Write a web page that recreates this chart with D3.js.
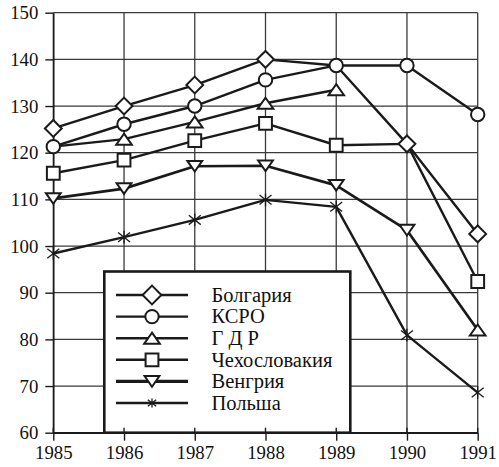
<!DOCTYPE html>
<html><head><meta charset="utf-8">
<script src="https://cdn.jsdelivr.net/npm/d3@7"></script>
<style>body{margin:0;background:#fff}svg{display:block}</style>
</head><body>
<svg id="c" width="499" height="467"></svg>
<script>
const years = [1985, 1986, 1987, 1988, 1989, 1990, 1991];
const yTicks = [60, 70, 80, 90, 100, 110, 120, 130, 140, 150];
const seriesNames = ["Болгария", "КСРО", "Г Д Р", "Чехословакия", "Венгрия", "Польша"];
const bolgariya = [125.2, 130, 134.5, 140, 138.7, 121.9, 102.6];
const ksro = [121.3, 126.1, 130, 135.6, 138.7, 138.7, 128.2];
const gdr = [121.3, 122.9, 126.6, 130.6, 133.5, null, null];
const chehoslovakiya = [115.6, 118.4, 122.6, 126.3, 121.6, 121.9, 92.4];
const vengriya = [110.2, 112.3, 117.1, 117.2, 113, 103.4, 82];
const polsha = [98.4, 101.9, 105.6, 109.9, 108.4, 80.9, 68.6];
// markers not visible in the reference (hidden under other points)
const hiddenMarkers = {"Болгария": [1989], "Г Д Р": [1985], "Чехословакия": [1990]};
const shapes = ["diamond", "circle", "up", "square", "down", "star"];
const vengriyaLastShape = "up";

const values = [bolgariya, ksro, gdr, chehoslovakiya, vengriya, polsha];
const svg = d3.select("#c");
const x = d3.scaleLinear().domain([1985, 1991]).range([53.3, 477.7]);
const y = d3.scaleLinear().domain([60, 150]).range([432.7, 12.7]);
const FONT = "'Liberation Serif','Times New Roman',serif";
const ink = "#1a1a1a";

// grid
const g = svg.append("g");
g.selectAll(".hg").data(yTicks).join("line")
  .attr("x1", x(1985)).attr("x2", x(1991)).attr("y1", d => y(d)).attr("y2", d => y(d))
  .attr("stroke", "#3a3a3a").attr("stroke-width", 1.3);
g.selectAll(".vg").data(years).join("line")
  .attr("x1", d => x(d)).attr("x2", d => x(d)).attr("y1", y(60)).attr("y2", y(150))
  .attr("stroke", "#3a3a3a").attr("stroke-width", 1.3);

// axes
const xAxis = d3.axisBottom(x).tickValues(years).tickFormat(d3.format("d")).tickSizeInner(8).tickSizeOuter(0).tickPadding(5);
const yAxis = d3.axisLeft(y).tickValues(yTicks).tickSizeInner(8).tickSizeOuter(0).tickPadding(7);
const gx = svg.append("g").attr("transform", `translate(0,${y(60)})`).call(xAxis);
const gy = svg.append("g").attr("transform", `translate(${x(1985)},0)`).call(yAxis);
[gx, gy].forEach(a => {
  a.select(".domain").attr("stroke", ink).attr("stroke-width", 1.5);
  a.selectAll(".tick line").attr("stroke", ink).attr("stroke-width", 1.4);
  a.selectAll("text").attr("font-family", FONT).attr("font-size", 18.8).attr("fill", "#111");
});
gx.selectAll("text").attr("dy", "0.71em");

function markerPath(shape, s) {
  const p = d3.path();
  if (shape === "diamond") { const r = 8.4 * s; p.moveTo(0, -r); p.lineTo(r, 0); p.lineTo(0, r); p.lineTo(-r, 0); p.closePath(); }
  else if (shape === "circle") { const r = 6.7 * s; p.moveTo(r, 0); p.arc(0, 0, r, 0, 2 * Math.PI); p.closePath(); }
  else if (shape === "square") { const r = 6.4 * s; p.rect(-r, -r, 2 * r, 2 * r); }
  else if (shape === "up") { const w = 7.8 * s, h = 5.5 * s; p.moveTo(0, -h); p.lineTo(w, h); p.lineTo(-w, h); p.closePath(); }
  else if (shape === "down") { const w = 7.4 * s, h = 5.3 * s; p.moveTo(0, h); p.lineTo(w, -h); p.lineTo(-w, -h); p.closePath(); }
  else if (shape === "star") { const r = 6.3 * s; p.moveTo(0, -r); p.lineTo(0, r);
    p.moveTo(-r * 0.95, -r * 0.75); p.lineTo(r * 0.95, r * 0.75); p.moveTo(-r * 0.95, r * 0.75); p.lineTo(r * 0.95, -r * 0.75); }
  return p.toString();
}
function drawMarker(sel, shape, cx, cy, s) {
  const star = shape === "star";
  sel.append("path").attr("d", markerPath(shape, s)).attr("transform", `translate(${cx},${cy})`)
    .attr("fill", star ? "none" : "#fff").attr("stroke", ink).attr("stroke-width", star ? 1.3 : 2);
}

// lines
const line = d3.line().defined(d => d[1] != null).x(d => x(d[0])).y(d => y(d[1]));
seriesNames.forEach((name, i) => {
  const pts = years.map((yr, j) => [yr, values[i][j]]);
  svg.append("path").attr("d", line(pts)).attr("fill", "none").attr("stroke", ink)
    .attr("stroke-width", name === "Венгрия" ? 2.7 : 2.4).attr("stroke-linejoin", "round");
});
// markers (draw last series first, so Болгария sits on top)
for (let i = seriesNames.length - 1; i >= 0; i--) {
  const name = seriesNames[i];
  const hide = hiddenMarkers[name] || [];
  const mg = svg.append("g");
  years.forEach((yr, j) => {
    const v = values[i][j];
    if (v == null || hide.includes(yr)) return;
    let shape = shapes[i];
    if (name === "Венгрия" && j === years.length - 1) shape = vengriyaLastShape;
    drawMarker(mg, shape, x(yr), y(v), 1);
  });
}

// legend
const lg = svg.append("g");
lg.append("rect").attr("x", 104.3).attr("y", 271.5).attr("width", 246).attr("height", y(60) - 271.5)
  .attr("fill", "#fff").attr("stroke", ink).attr("stroke-width", 2.6);
seriesNames.forEach((name, i) => {
  const ly = 295 + i * 21.6;
  lg.append("line").attr("x1", 116).attr("x2", 188).attr("y1", ly).attr("y2", ly)
    .attr("stroke", ink).attr("stroke-width", name === "Венгрия" ? 3.2 : 2.4);
  drawMarker(lg, shapes[i], 152, ly, shapes[i] === "diamond" ? 1.12 : (shapes[i] === "star" ? 0.7 : 1));
  lg.append("text").attr("x", 211.5).attr("y", ly).attr("dy", "0.33em").text(name)
    .attr("font-family", FONT).attr("font-size", 20.5).attr("fill", "#111");
});
// x ticks crossing the axis (visible inside the legend box)
svg.append("g").selectAll("line").data(years).join("line")
  .attr("x1", d => x(d)).attr("x2", d => x(d)).attr("y1", y(60) - 5).attr("y2", y(60))
  .attr("stroke", ink).attr("stroke-width", 1.4);
svg.append("line").attr("x1", x(1985)).attr("x2", x(1991)).attr("y1", y(60)).attr("y2", y(60))
  .attr("stroke", ink).attr("stroke-width", 1.5);
</script>
</body></html>
